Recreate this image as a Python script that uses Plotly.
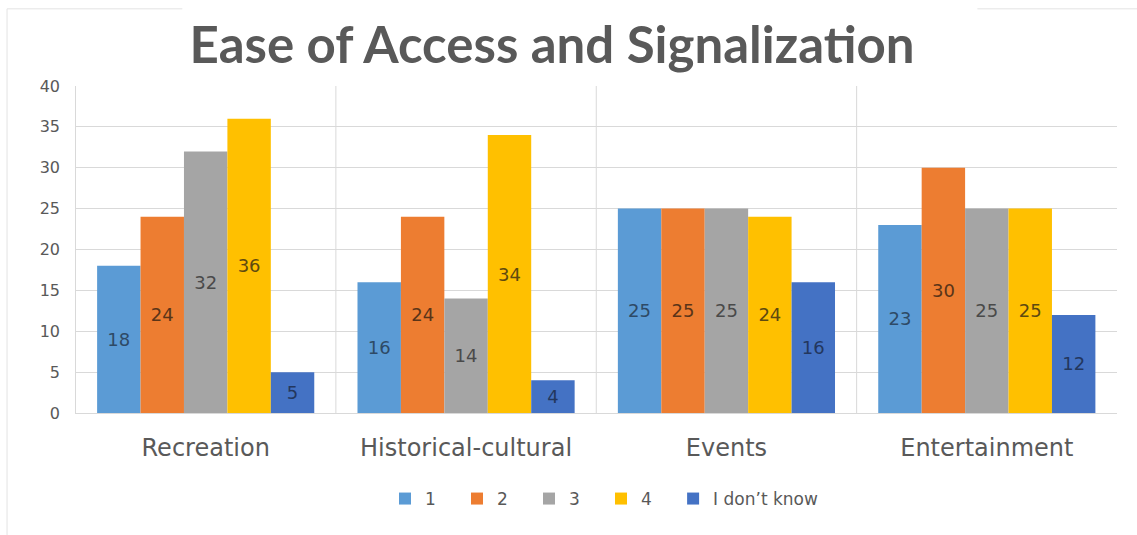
import plotly.graph_objects as go

categories = ["Recreation", "Historical-cultural", "Events", "Entertainment"]
series_names = ["1", "2", "3", "4", "I don\u2019t know"]
s1 = [18, 16, 25, 23]
s2 = [24, 24, 25, 30]
s3 = [32, 14, 25, 25]
s4 = [36, 34, 24, 25]
s5 = [5, 4, 16, 12]
series_values = [s1, s2, s3, s4, s5]
colors = ["#5B9BD5", "#ED7D31", "#A5A5A5", "#FFC000", "#4472C4"]
text_colors = ["#2E4A66", "#5A3418", "#4A4A4A", "#5E4A10", "#23375E"]
legend_ids = ["legend", "legend", "legend", "legend", "legend2"]
y_ticks = [0, 5, 10, 15, 20, 25, 30, 35, 40]

FONT = "DejaVu Sans"

fig = go.Figure()
for name, vals, c, tc, lg in zip(series_names, series_values, colors, text_colors, legend_ids):
    fig.add_trace(go.Bar(
        name=name, x=categories, y=vals, marker_color=c, marker_line_width=0,
        text=[str(v) for v in vals], textposition="inside",
        insidetextanchor="middle", textangle=0,
        textfont=dict(family=FONT, size=18, color=tc),
        cliponaxis=False, legend=lg,
    ))

shapes = []
for xb in [-0.5, 0.5, 1.5, 2.5]:
    shapes.append(dict(type="line", xref="x", yref="paper", x0=xb, x1=xb,
                       y0=0, y1=1, line=dict(color="#D9D9D9", width=1), layer="below"))
# outer frame fragments
frame = dict(color="#E3E3E3", width=1)
shapes.append(dict(type="line", xref="paper", yref="paper", x0=-0.0652, x1=-0.0652,
                   y0=-0.373, y1=1.236, line=frame))
shapes.append(dict(type="line", xref="paper", yref="paper", x0=-0.0652, x1=0.103,
                   y0=1.236, y1=1.236, line=frame))
shapes.append(dict(type="line", xref="paper", yref="paper", x0=0.866, x1=1.02,
                   y0=1.236, y1=1.236, line=frame))

legend_common = dict(orientation="h", yanchor="middle", y=-0.263, xanchor="left",
                     font=dict(family=FONT, size=17, color="#595959"),
                     itemwidth=30, traceorder="normal", bgcolor="rgba(0,0,0,0)")

fig.update_layout(
    width=1137, height=535,
    margin=dict(l=75, r=20, t=86, b=122),
    paper_bgcolor="white", plot_bgcolor="white",
    barmode="group", bargap=0.166, bargroupgap=0,
    title=dict(text="<b>Ease of Access and Signalization</b>", x=0.4855, xanchor="center",
               y=0.915, yanchor="middle",
               font=dict(family="Lato", size=51, color="#595959")),
    showlegend=True,
    legend=dict(x=0.2975, entrywidth=27, entrywidthmode="pixels", **legend_common),
    legend2=dict(x=0.574, **legend_common),
    shapes=shapes,
)
fig.update_xaxes(showgrid=False, showline=True, linecolor="#D9D9D9", linewidth=1,
                 ticks="", tickfont=dict(family=FONT, size=24, color="#595959"),
                 ticklabelstandoff=13)
fig.update_yaxes(range=[0, 40], tickvals=y_ticks, showgrid=True, gridcolor="#D9D9D9",
                 gridwidth=1, zeroline=False, showline=False, ticks="",
                 tickfont=dict(family=FONT, size=16, color="#595959"),
                 ticklabelstandoff=14)

fig.write_html("out.html")
